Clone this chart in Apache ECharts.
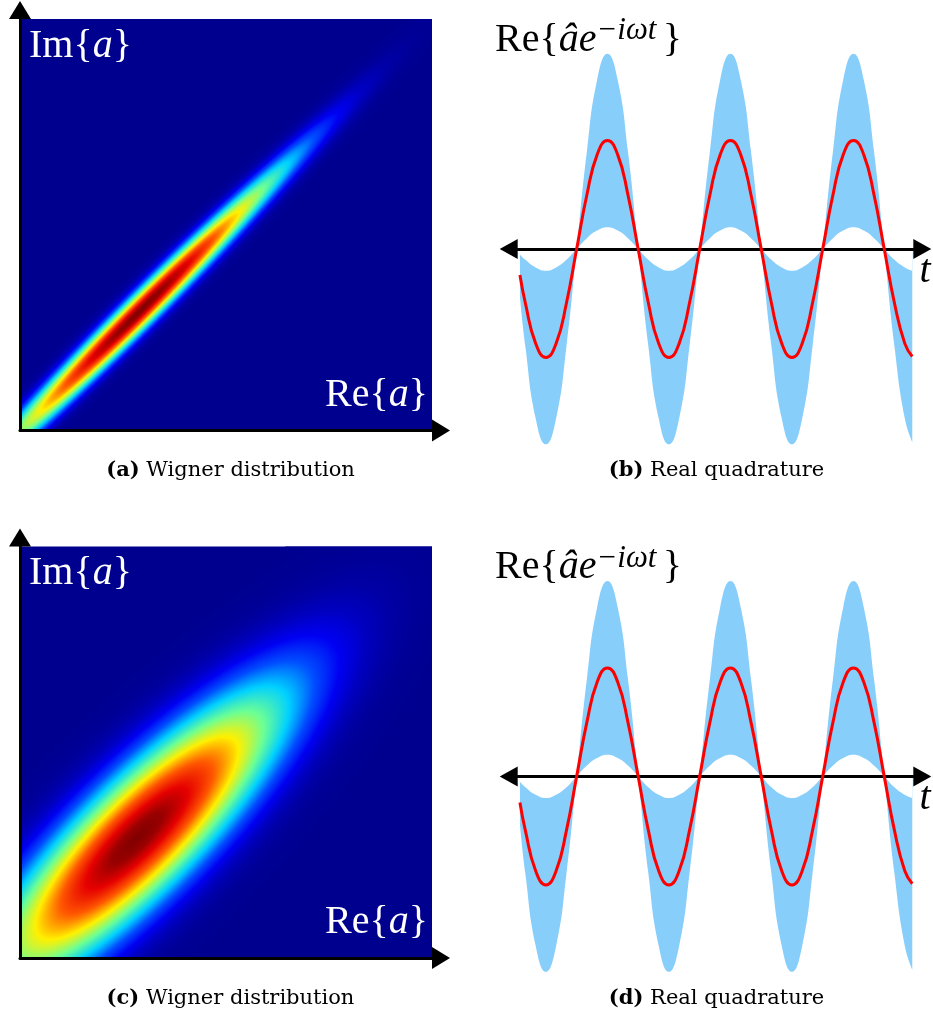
<!DOCTYPE html>
<html>
<head>
<meta charset="utf-8">
<script src="https://cdn.jsdelivr.net/npm/echarts@6/dist/echarts.min.js"></script>
<style>
html, body { margin: 0; padding: 0; background: #ffffff; }
#chart { width: 933px; height: 1023px; }
</style>
</head>
<body>
<div id="chart"></div>
<script>
// ---------------- Wigner distributions (panels a and c), axis units 0..1 ----------------
const wignerCenterA = [0.291, 0.290];      // peak position (Re, Im)
const wignerSigmaA  = [0.340, 0.0255];     // [along diagonal, across diagonal]
const wignerCenterC = [0.284, 0.291];
const wignerSigmaC  = [0.335, 0.092];
const wignerAngleDeg = 45;
// radial profile read along the ellipse axes: distance (in sigma) -> normalised density
const profileR = [0, 0.25, 0.5, 0.75, 1.0, 1.25, 1.5, 1.75, 2.0, 2.25, 2.5, 2.75, 3.0, 3.25, 3.5];
const profileV = [1.00, 0.975, 0.90, 0.79, 0.64, 0.48, 0.33, 0.20, 0.11, 0.055, 0.025, 0.010, 0.004, 0.001, 0.0];
const jetColors = ['#00008F', '#0000FF', '#0080FF', '#00FFFF', '#80FF80', '#FFFF00', '#FF8000', '#FF0000', '#800000'];

// ---------------- Real quadrature (panels b and d) ----------------
const phaseDeg = [-166, -150, -120, -90, -60, -30, 0, 30, 60, 90, 120, 150, 180, 210, 240, 270, 300, 330, 360,
  390, 420, 450, 480, 510, 540, 570, 600, 630, 660, 690, 720, 750, 780, 810, 840, 870, 900, 930, 960, 982];
const meanQuadrature = [-0.24, -0.50, -0.87, -1.00, -0.87, -0.50, 0, 0.50, 0.87, 1.00, 0.87, 0.50, 0, -0.50, -0.87, -1.00, -0.87, -0.50, 0,
  0.50, 0.87, 1.00, 0.87, 0.50, 0, -0.50, -0.87, -1.00, -0.87, -0.50, 0, 0.50, 0.87, 1.00, 0.87, 0.50, 0, -0.50, -0.87, -0.99];
const bandInner = [-0.05, -0.10, -0.17, -0.20, -0.17, -0.10, 0, 0.10, 0.17, 0.20, 0.17, 0.10, 0, -0.10, -0.17, -0.20, -0.17, -0.10, 0,
  0.10, 0.17, 0.20, 0.17, 0.10, 0, -0.10, -0.17, -0.20, -0.17, -0.10, 0, 0.10, 0.17, 0.20, 0.17, 0.10, 0, -0.10, -0.17, -0.20];
const bandOuter = [-0.44, -0.90, -1.56, -1.80, -1.56, -0.90, 0, 0.90, 1.56, 1.80, 1.56, 0.90, 0, -0.90, -1.56, -1.80, -1.56, -0.90, 0,
  0.90, 1.56, 1.80, 1.56, 0.90, 0, -0.90, -1.56, -1.80, -1.56, -0.90, 0, 0.90, 1.56, 1.80, 1.56, 0.90, 0, -0.90, -1.56, -1.78];

// ---------------- Text ----------------
const captions = [
  { tag: '(a)', text: ' Wigner distribution' },
  { tag: '(b)', text: ' Real quadrature' },
  { tag: '(c)', text: ' Wigner distribution' },
  { tag: '(d)', text: ' Real quadrature' }
];

// ======================================================================
const SERIF = '"Liberation Serif", "Times New Roman", serif';
const CAPFONT = '"DejaVu Serif", serif';
const PANEL_DY = 527.4;

const lastR = profileR[profileR.length - 1];
const gradientStops = profileR.map(function (r, k) {
  return { offset: r / lastR, color: echarts.color.lerp(profileV[k], jetColors) };
});

function renderWigner(params, api) {
  const c = api.coord([api.value(0), api.value(1)]);
  const sMaj = api.size([api.value(2), 0])[0] * lastR;
  const sMin = api.size([api.value(3), 0])[0] * lastR;
  const cs = params.coordSys;
  return {
    type: 'group',
    clipPath: { type: 'rect', shape: { x: cs.x, y: cs.y, width: cs.width, height: cs.height } },
    children: [{
      type: 'circle',
      shape: { cx: 0, cy: 0, r: 1 },
      x: c[0], y: c[1],
      scaleX: sMaj, scaleY: sMin,
      rotation: api.value(4) * Math.PI / 180,
      style: { fill: { type: 'radial', x: 0.5, y: 0.5, r: 0.5, colorStops: gradientStops } }
    }]
  };
}

function heatGrid(top) {
  return { left: 20, top: top, width: 412, height: 411.5, show: true, backgroundColor: '#00008F', borderWidth: 0, outerBoundsMode: 'none', containLabel: false };
}
function quadGrid(top) {
  return { left: 517.7, top: top, width: 395.6, height: 434, show: false, outerBoundsMode: 'none', containLabel: false };
}
function heatAxis(gi) {
  return {
    gridIndex: gi, type: 'value', min: 0, max: 1, z: 5,
    axisLine: { show: true, onZero: false, symbol: ['none', 'triangle'], symbolSize: [22, 18], symbolOffset: [0, 9],
      lineStyle: { color: '#000', width: 3 } },
    axisTick: { show: false }, axisLabel: { show: false }, splitLine: { show: false }
  };
}
function quadXAxis(gi) {
  return {
    gridIndex: gi, type: 'value', min: -172.5, max: 985, z: 3,
    axisLine: { show: true, onZero: true, symbol: ['triangle', 'triangle'], symbolSize: [20, 18], symbolOffset: [-9, 9],
      lineStyle: { color: '#000', width: 3 } },
    axisTick: { show: false }, axisLabel: { show: false }, splitLine: { show: false }
  };
}
function quadYAxis(gi) {
  return { gridIndex: gi, type: 'value', min: -2, max: 2,
    axisLine: { show: false }, axisTick: { show: false }, axisLabel: { show: false }, splitLine: { show: false } };
}
function zip(xs, ys) { return xs.map(function (x, i) { return [x, ys[i]]; }); }

// band = region between the inner and the outer envelope: outer area in blue, inner area knocked out in white
function quadSeries(ai) {
  return [
    { type: 'line', xAxisIndex: ai, yAxisIndex: ai, data: zip(phaseDeg, bandOuter),
      smooth: true, symbol: 'none', lineStyle: { width: 0, opacity: 0 }, areaStyle: { color: '#87CEFA', opacity: 1, origin: 0 }, z: 1, silent: true },
    { type: 'line', xAxisIndex: ai, yAxisIndex: ai, data: zip(phaseDeg, bandInner),
      smooth: true, symbol: 'none', lineStyle: { width: 0, opacity: 0 }, areaStyle: { color: '#ffffff', opacity: 1, origin: 0 }, z: 2, silent: true },
    { type: 'line', xAxisIndex: ai, yAxisIndex: ai, data: zip(phaseDeg, meanQuadrature),
      smooth: true, symbol: 'none', lineStyle: { color: '#FF0000', width: 3 }, z: 4, silent: true }
  ];
}

function mathRich(color) {
  return {
    r: { fontFamily: SERIF, fontSize: 40, lineHeight: 50, fill: color },
    i: { fontFamily: SERIF, fontStyle: 'italic', fontSize: 40, lineHeight: 50, fill: color },
    s: { fontFamily: SERIF, fontStyle: 'italic', fontSize: 31, lineHeight: 12, verticalAlign: 'top', fill: color }
  };
}
function mathText(x, y, text, color) {
  return { type: 'text', x: x, y: y, z: 10, silent: true,
    style: { text: text, fontFamily: SERIF, fontSize: 40, lineHeight: 50, fill: color, align: 'left', verticalAlign: 'top', rich: mathRich(color) } };
}
function captionText(x, y, cap) {
  return { type: 'text', x: x, y: y, z: 10, silent: true,
    style: { text: '{b|' + cap.tag + '}' + cap.text, fontFamily: CAPFONT, fontSize: 21, fill: '#000', align: 'center', verticalAlign: 'middle',
      rich: { b: { fontFamily: CAPFONT, fontSize: 21, fontWeight: 'bold', fill: '#000' } } } };
}

const graphics = [];
[0, 1].forEach(function (row) {
  const dy = row * PANEL_DY;
  graphics.push(mathText(29, 21 + dy, '{r|Im{}{i|a}}', '#ffffff'));
  graphics.push(mathText(325, 370 + dy, '{r|Re{}{i|a}}', '#ffffff'));
  graphics.push(mathText(495, 15.5 + dy, '{r|Re{}{i|âe}{s|−iωt\u2009}}', '#000000'));
  graphics.push(mathText(919.5, 246.5 + dy, '{i|t}', '#000000'));
  graphics.push(captionText(230.5, 470.7 + dy, captions[row * 2]));
  graphics.push(captionText(716.5, 470.7 + dy, captions[row * 2 + 1]));
});

const option = {
  animation: false,
  backgroundColor: '#ffffff',
  grid: [heatGrid(19), quadGrid(32), heatGrid(19 + PANEL_DY), quadGrid(32 + PANEL_DY)],
  xAxis: [heatAxis(0), quadXAxis(1), heatAxis(2), quadXAxis(3)],
  yAxis: [heatAxis(0), quadYAxis(1), heatAxis(2), quadYAxis(3)],
  series: [
    { type: 'custom', xAxisIndex: 0, yAxisIndex: 0, z: 2, silent: true, renderItem: renderWigner,
      data: [[wignerCenterA[0], wignerCenterA[1], wignerSigmaA[0], wignerSigmaA[1], wignerAngleDeg]] },
    { type: 'custom', xAxisIndex: 2, yAxisIndex: 2, z: 2, silent: true, renderItem: renderWigner,
      data: [[wignerCenterC[0], wignerCenterC[1], wignerSigmaC[0], wignerSigmaC[1], wignerAngleDeg]] }
  ].concat(quadSeries(1), quadSeries(3)),
  graphic: graphics
};

const chart = echarts.init(document.getElementById('chart'), null, { renderer: 'canvas' });
chart.setOption(option);
</script>
</body>
</html>
